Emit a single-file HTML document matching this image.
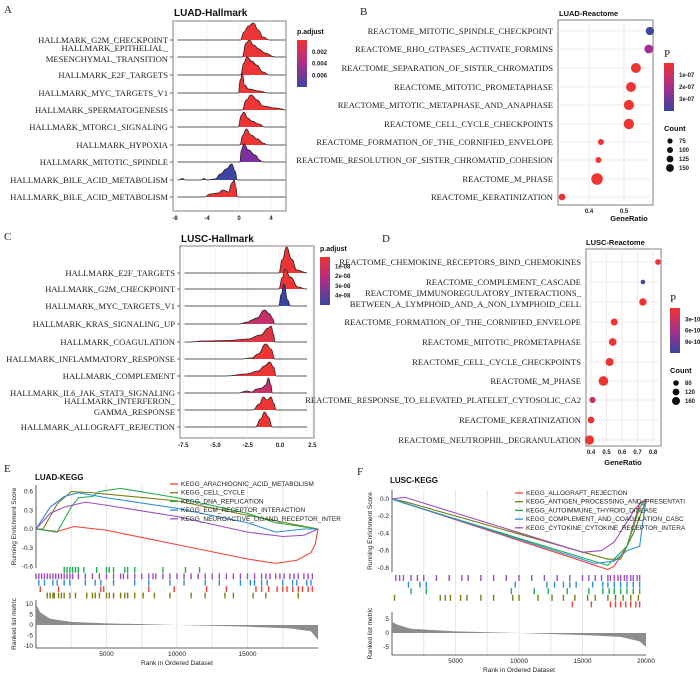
<!DOCTYPE html>
<html><head><meta charset="utf-8"><style>
body{margin:0;background:#fff}
svg{display:block}
.lab{font-family:"Liberation Serif",serif;font-size:8.6px;fill:#222}
.tt{font-family:"Liberation Sans",sans-serif;font-weight:bold;fill:#111}
.tk{font-family:"Liberation Sans",sans-serif;font-size:6px;font-weight:bold;fill:#222}
.sm{font-family:"Liberation Sans",sans-serif;font-size:6.5px;fill:#222}
.pl{font-family:"Liberation Serif",serif;font-size:11px;fill:#222}
</style></head><body>
<svg id="fig" width="700" height="678" viewBox="0 0 700 678" xmlns="http://www.w3.org/2000/svg">
<defs>
<linearGradient id="gA" x1="0" y1="0" x2="0" y2="1"><stop offset="0" stop-color="#ee3333"/><stop offset="0.5" stop-color="#a82f8a"/><stop offset="1" stop-color="#3a45a0"/></linearGradient>
</defs>
<text class="pl" x="4" y="13">A</text>
<text class="pl" x="360" y="15">B</text>
<text class="pl" x="4" y="240">C</text>
<text class="pl" x="382" y="242">D</text>
<text class="pl" x="4" y="472">E</text>
<text class="pl" x="357" y="475">F</text>
<text class="tt" x="174" y="16" font-size="10">LUAD-Hallmark</text>
<text class="tt" x="559" y="16" font-size="7.5">LUAD-Reactome</text>
<text class="tt" x="181" y="242" font-size="10">LUSC-Hallmark</text>
<text class="tt" x="586" y="245" font-size="7.5">LUSC-Reactome</text>
<text class="tt" x="35" y="480" font-size="8">LUAD-KEGG</text>
<text class="tt" x="390" y="483" font-size="8">LUSC-KEGG</text>
<g id="root"></g>
</svg>
<script>
// ---------- Panel A data ----------
const aLabels=["HALLMARK_G2M_CHECKPOINT",["HALLMARK_EPITHELIAL_","MESENCHYMAL_TRANSITION"],"HALLMARK_E2F_TARGETS","HALLMARK_MYC_TARGETS_V1","HALLMARK_SPERMATOGENESIS","HALLMARK_MTORC1_SIGNALING","HALLMARK_HYPOXIA","HALLMARK_MITOTIC_SPINDLE","HALLMARK_BILE_ACID_METABOLISM","HALLMARK_BILE_ACID_METABOLISM"];
const aColors=["#ee3434","#ee3434","#ee3434","#ee3434","#ee3434","#ee3434","#ee3434","#7b2fa0","#3b45a3","#ee3434"];
const aDens=[
[[0.2,0],[0.6,8],[1.2,14],[1.8,17],[2.4,10],[3,3],[3.8,0]],
[[0.4,0],[0.9,14],[1.3,17],[1.8,12],[2.5,8],[3.2,4],[4.5,0]],
[[0.2,0],[0.6,12],[1.0,18],[1.6,14],[2.2,10],[3,3],[3.8,0]],
[[-0.1,0],[0.2,14],[0.4,20],[0.7,8],[1.2,4],[2.5,2],[3.6,0]],
[[0.4,0],[0.9,10],[1.5,15],[2.3,10],[3,4],[4.5,2],[5.4,1],[5.7,0]],
[[-0.1,0],[0.3,12],[0.6,15],[1.1,9],[1.6,6],[2.5,3],[3.2,0]],
[[0.1,0],[0.5,10],[0.9,16],[1.5,10],[2.3,6],[3,2],[3.6,0]],
[[0.1,0],[0.3,12],[0.6,18],[1.2,12],[2,7],[2.6,2],[2.9,0]],
[[-7.5,0],[-7.1,1.5],[-6.7,0],[-4.7,0],[-4.4,1.5],[-4,0],[-3,1],[-2.3,6],[-1.6,11],[-0.9,16],[-0.5,9],[-0.2,0]],
[[-4.3,0],[-3.6,3],[-2.6,4],[-2,7],[-1.3,5],[-0.9,14],[-0.6,17],[-0.4,10],[-0.2,0]]];
const aTicks=[-8,-4,0,4];
const aLeg=["0.002","0.004","0.006"];
// ---------- Panel B data ----------
const bLabels=["REACTOME_MITOTIC_SPINDLE_CHECKPOINT","REACTOME_RHO_GTPASES_ACTIVATE_FORMINS","REACTOME_SEPARATION_OF_SISTER_CHROMATIDS","REACTOME_MITOTIC_PROMETAPHASE","REACTOME_MITOTIC_METAPHASE_AND_ANAPHASE","REACTOME_CELL_CYCLE_CHECKPOINTS","REACTOME_FORMATION_OF_THE_CORNIFIED_ENVELOPE","REACTOME_RESOLUTION_OF_SISTER_CHROMATID_COHESION","REACTOME_M_PHASE","REACTOME_KERATINIZATION"];
const bRatio=[0.574,0.571,0.534,0.52,0.514,0.514,0.434,0.427,0.423,0.323];
const bCount=[95,105,125,125,130,135,60,58,160,70];
const bColor=["#3d48a0","#a52f9a","#ee3434","#ee3434","#ee3434","#ee3434","#ee3434","#ee3434","#ee3434","#ee3434"];
const bTicks=[0.4,0.5];
// ---------- Panel C data ----------
const cLabels=["HALLMARK_E2F_TARGETS","HALLMARK_G2M_CHECKPOINT","HALLMARK_MYC_TARGETS_V1","HALLMARK_KRAS_SIGNALING_UP","HALLMARK_COAGULATION","HALLMARK_INFLAMMATORY_RESPONSE","HALLMARK_COMPLEMENT","HALLMARK_IL6_JAK_STAT3_SIGNALING",["HALLMARK_INTERFERON_","GAMMA_RESPONSE"],"HALLMARK_ALLOGRAFT_REJECTION"];
const cColors=["#ee3434","#ee3434","#3b45a3","#c5306a","#e23345","#ee3434","#ee3434","#c5306a","#ee3434","#ee3434"];
const cDens=[
[[-0.1,0],[0.2,14],[0.5,26],[0.9,14],[1.3,3],[2.1,0]],
[[-0.1,0],[0.2,12],[0.4,20],[0.8,12],[1.4,2],[2,0]],
[[-0.1,0],[0.1,12],[0.3,22],[0.6,6],[0.8,0]],
[[-3.2,0],[-2.5,2],[-2.2,4],[-1.8,6],[-1.2,14],[-0.8,10],[-0.6,6],[-0.4,0]],
[[-7,0],[-6,1],[-4,1.5],[-2.5,3],[-1.5,7],[-0.9,14],[-0.7,16],[-0.5,8],[-0.4,0]],
[[-3,0],[-2.2,1],[-1.7,5],[-1.1,15],[-0.7,10],[-0.4,0]],
[[-4.2,0],[-2.6,2],[-1.7,5],[-1.2,10],[-0.8,14],[-0.5,9],[-0.3,0]],
[[-3.2,0],[-2.6,2],[-2.2,1],[-1.8,4],[-1.4,5],[-1.1,8],[-0.9,15],[-0.7,8],[-0.6,0]],
[[-2.1,0],[-1.6,6],[-1.3,13],[-1.0,10],[-0.7,13],[-0.5,7],[-0.3,0]],
[[-1.9,0],[-1.5,8],[-1.2,15],[-0.9,10],[-0.6,0]]];
const cTicks=[-7.5,-5,-2.5,0,2.5];
const cTickLabels=["-7.5","-5.0","-2.5","0.0","2.5"];
const cLeg=["1e-08","2e-08","3e-08","4e-08"];
// ---------- Panel D data ----------
const dLabels=["REACTOME_CHEMOKINE_RECEPTORS_BIND_CHEMOKINES","REACTOME_COMPLEMENT_CASCADE",["REACTOME_IMMUNOREGULATORY_INTERACTIONS_","BETWEEN_A_LYMPHOID_AND_A_NON_LYMPHOID_CELL"],"REACTOME_FORMATION_OF_THE_CORNIFIED_ENVELOPE","REACTOME_MITOTIC_PROMETAPHASE","REACTOME_CELL_CYCLE_CHECKPOINTS","REACTOME_M_PHASE","REACTOME_RESPONSE_TO_ELEVATED_PLATELET_CYTOSOLIC_CA2","REACTOME_KERATINIZATION","REACTOME_NEUTROPHIL_DEGRANULATION"];
const dRatio=[0.832,0.735,0.735,0.55,0.54,0.52,0.48,0.41,0.4,0.39];
const dCount=[70,50,105,95,110,120,160,80,90,150];
const dColor=["#ee3434","#3d48a0","#ee3434","#ee3434","#ee3434","#ee3434","#ee3434","#c5306a","#ee3434","#ee3434"];
const dTicks=[0.4,0.5,0.6,0.7,0.8];
// ---------- Panel E data (rank in thousands, ES) ----------
const eNames=["KEGG_ARACHIDONIC_ACID_METABOLISM","KEGG_CELL_CYCLE","KEGG_DNA_REPLICATION","KEGG_ECM_RECEPTOR_INTERACTION","KEGG_NEUROACTIVE_LIGAND_RECEPTOR_INTER"];
const eCols=["#f0413b","#7d7d12","#1aae50","#2b8fd6","#9b4ec0"];
const eRank=[[0,1.5,2.7,5,10,15,17,18.5,19.5,19.8,20],[0,0.5,1.5,2.5,4,10,15,20],[0,1.5,2.5,3,4,4.5,6,10,15,17,20],[0,1,2,3,5,10,15,17,19,20],[0,1,2,3.5,5,10,15,17.5,19,20]];
const eES=[[0,-0.04,0.04,-0.02,-0.25,-0.48,-0.55,-0.5,-0.38,-0.25,0],[0,0,0.4,0.6,0.58,0.45,0.22,0],[0,-0.05,0.35,0.5,0.52,0.6,0.65,0.5,0.25,0.1,0],[0,0.35,0.52,0.58,0.5,0.33,0.1,-0.05,0,0],[0,0.25,0.35,0.43,0.38,0.2,-0.05,-0.12,-0.1,0]];
const eHits=[[2,2.2,2.4,2.6,2.8,3,3.4,4.3,5,5.2,5.5,6.3,6.5,7,9,10.6,11.6],
[0,0.2,0.4,0.6,0.8,1,1.2,1.4,1.6,1.8,2,2.2,2.4,2.6,3,3.5,4,4.5,5,5.5,6,6.2,6.5,7,7.5,8,8.3,8.5,9,9.5,10,10.5,11,11.5,12,12.5,13,13.5,14,14.5,15,15.5,16,16.3,16.6,17,17.3,17.6,18,18.3,18.6,19,19.3,19.6],
[0.2,0.6,1.2,1.5,2,2.4,3.5,4.2,4.6,5.5,7,8,9.5,10.5,12,13,14.5,15.2,15.5,16,16.4,17.5,18.2,18.5,19.2,19.5],
[0.3,1.6,4.6,4.8,8,9.8,12.1,13.5,15.6,16,16.5,17.1,17.5,17.8,18.2,18.6,18.9,19.3,19.6],
[0.8,1,1.2,1.3,1.6,1.8,2,2.4,2.8,3.6,4,4.2,4.5,5,5.2,5.5,6,6.3,6.5,7,7.6,8.4,9.5,11,12,13.4,14,15.4,16.3,18.6]];
const eHitCol=["#1aae50","#9b4ec0","#2b8fd6","#f0413b","#7d7d12"];
const eMetric=[[0,10],[0.3,6],[1,3],[2.5,1.5],[5,0.8],[10,0],[15,-0.8],[18,-1.6],[19.5,-3],[20,-7]];
// ---------- Panel F data ----------
const fNames=["KEGG_ALLOGRAFT_REJECTION","KEGG_ANTIGEN_PROCESSING_AND_PRESENTATI","KEGG_AUTOIMMUNE_THYROID_DISEASE","KEGG_COMPLEMENT_AND_COAGULATION_CASC","KEGG_CYTOKINE_CYTOKINE_RECEPTOR_INTERA"];
const fCols=["#f0413b","#7d7d12","#1aae50","#2b8fd6","#9b4ec0"];
const fRank=[[0,17,17.5,18.5,19.5,20],[0,1,17,18,19,19.8,20],[0,1,16.5,17,18.5,19.5,20],[0,16,17.5,18.5,19.5,20],[0,1,15,16.5,17.5,19.2,20]];
const fES=[[0,-0.82,-0.78,-0.55,-0.05,0],[0,-0.03,-0.7,-0.7,-0.4,-0.1,0],[0,-0.05,-0.75,-0.77,-0.55,-0.1,0],[0,-0.75,-0.72,-0.6,-0.55,0],[0,0.02,-0.62,-0.6,-0.5,-0.1,0]];
const fHits=[[0.3,0.6,0.9,1.5,2,2.5,3.5,4.5,5.5,6,7,8,9,10,11,12,13,14,15,15.5,16,16.5,17,17.2,17.5,17.8,18,18.3,18.5,18.8,19,19.3,19.5],[1.3,2.2,2.7,9.7,12.2,12.8,13.5,14,14.5,15.8,16.6,17,17.5,18,18.5,19,19.5],[1.5,2.7,9.4,11.2,12.3,13.8,15.5,16.6,17.1,17.5,18,18.5,19,19.5],[0.2,3.8,4.2,4.6,5.4,5.9,7,8,9.5,10,11.5,12.6,13.5,14.4,15.4,16,17,17.6,18.2,18.8,19.4],[14.2,15.7,17.2,17.6,18,18.4,18.8,19.2,19.5]];
const fHitCol=["#9b4ec0","#2b8fd6","#1aae50","#7d7d12","#f0413b"];
const fMetric=[[0,4],[0.4,3],[1.5,1.5],[5,0.6],[10,0],[15,-0.7],[18,-1.4],[19.5,-3],[20,-5]];

const NS="http://www.w3.org/2000/svg";
const root=document.getElementById('root');
function mk(tag,attrs,parent){const e=document.createElementNS(NS,tag);for(const k in attrs)e.setAttribute(k,attrs[k]);(parent||root).appendChild(e);return e;}
function txt(s,attrs,cls){const e=mk('text',attrs);e.setAttribute('class',cls);e.textContent=s;return e;}
function label(lbl,x,y,cls){
  if(Array.isArray(lbl)){const e=txt(lbl[0],{x:x,y:y-6,'text-anchor':'end'},cls);const e2=txt(lbl[1],{x:x,y:y+5,'text-anchor':'end'},cls);return e;}
  return txt(lbl,{x:x,y:y+3,'text-anchor':'end'},cls);
}

function ridge(box,xs,x0,x1,rowY,labels,dens,cols,ticks,tickLabels,prefix){
  const fr=mk('rect',{x:box[0],y:box[1],width:box[2]-box[0],height:box[3]-box[1],fill:'#fff',stroke:'#8a7c74','stroke-width':1});
  
  ticks.forEach((t,i)=>{
    const g=mk('line',{x1:xs(t),x2:xs(t),y1:box[1],y2:box[3],stroke:'#eee','stroke-width':0.8});
    
    const tl=txt(tickLabels[i],{x:xs(t),y:box[3]+9,'text-anchor':'middle'},'tk');
    
  });
  rowY.forEach((y,i)=>{
    const l=label(labels[i],box[0]-5,y,'lab');
    
    const tk=mk('line',{x1:box[0]-3,x2:box[0],y1:y,y2:y,stroke:'#333','stroke-width':0.7});
    
  });
  rowY.forEach((y,i)=>{
    const pts=dens[i];
    let d='M'+xs(x0)+','+y+' L'+xs(pts[0][0])+','+y;
    for(let j=1;j<pts.length;j++){
      const p0=pts[j-1],p1=pts[j];
      const mx=(xs(p0[0])+xs(p1[0]))/2;
      d+=' C'+mx+','+(y-p0[1])+' '+mx+','+(y-p1[1])+' '+xs(p1[0])+','+(y-p1[1]);
    }
    d+=' L'+xs(x1)+','+y;
    const p=mk('path',{d:d,fill:cols[i],stroke:'#222','stroke-width':0.8});
    
  });
}
function colorbar(x,y,h,title,labs,prefix,titleCls){
  const t=txt(title,{x:x,y:y-6},titleCls||'tt');
  if(!titleCls)t.setAttribute('font-size','7');
  
  const r=mk('rect',{x:x,y:y,width:10,height:h,fill:'url(#gA)'});
  
  labs.forEach((s,i)=>{const yy=y+h*(i+1)/(labs.length+1);
    const l=txt(s,{x:x+15,y:yy+2},'tk');l.setAttribute('font-size','5');
    });
}
const xA=v=>239+8*v;
ridge([173,21,286,211],xA,-7.7,5.8,[40,57,75,93,110,127,145,162,180,197],aLabels,aDens,aColors,aTicks,aTicks.map(String),'a');
colorbar(297,40,47,'p.adjust',aLeg,'a');
const xC=v=>280+12.9*v;
ridge([180,246,314,438],xC,-7.4,2.1,[273,289,306,324,342,359,376,393,410,427],cLabels,cDens,cColors,cTicks,cTickLabels,'c');
colorbar(320,257,48,'p.adjust',cLeg,'c');

function dots(box,xs,rowY,labels,ratio,count,col,ticks,prefix,rmin,rscale){
  const fr=mk('rect',{x:box[0],y:box[1],width:box[2]-box[0],height:box[3]-box[1],fill:'#fff',stroke:'#8a7c74','stroke-width':1});
  
  ticks.forEach(t=>{
    const g=mk('line',{x1:xs(t),x2:xs(t),y1:box[1],y2:box[3],stroke:'#f0e4e4','stroke-width':0.8});
    
    const tl=txt(String(t),{x:xs(t),y:box[3]+8,'text-anchor':'middle'},'tk');tl.setAttribute('font-size','5.5');
    
  });
  rowY.forEach((y,i)=>{
    const g=mk('line',{x1:box[0],x2:box[2],y1:y,y2:y,stroke:'#f0e4e4','stroke-width':0.8});
    
    const l=label(labels[i],box[0]-5,y,'lab');l.setAttribute('font-size','8');
    
    const c=mk('circle',{cx:xs(ratio[i]),cy:y,r:rmin+rscale*Math.sqrt(count[i]),fill:col[i]});
    
  });
}
const xB=v=>589+350*(v-0.4);
dots([558,20,653,205],xB,[31,49,68,87,105,124,142,160,179,197],bLabels,bRatio,bCount,bColor,bTicks,'b',-1.2,0.55);
const xD=v=>591+155*(v-0.4);
dots([586,249,661,446],xD,[262,282,302,322,342,362,381,400,420,440],dLabels,dRatio,dCount,dColor,dTicks,'d',-1.0,0.46);
[["GeneRatio",629,221,'b'],["GeneRatio",623,465,'d']].forEach(a=>{const t=txt(a[0],{x:a[1],y:a[2],'text-anchor':'middle'},'tt');t.setAttribute('font-size','7.5');});
colorbar(664,63,48,'P',["1e-07","2e-07","3e-07"],'b','pl');
colorbar(670,308,45,'P',["3e-10","6e-10","9e-10"],'d','pl');
function countLeg(x,y,vals,sizes,prefix){
  const t=txt('Count',{x:x-6,y:y},'tt');t.setAttribute('font-size','7.5');
  
  vals.forEach((v,i)=>{const yy=y+10+i*9;
    const c=mk('circle',{cx:x,cy:yy,r:sizes[i],fill:'#111'});
    const l=txt(String(v),{x:x+9,y:yy+2},'tk');l.setAttribute('font-size','5');});
}
countLeg(670,131,[75,100,125,150],[2.6,3,3.4,3.9],'b');
countLeg(676,373,[80,120,160],[2.8,3.4,4],'d');

function gsea(o){
  const xs=v=>o.x0+o.pk*v;
  const f=mk('rect',{x:o.x0,y:o.top[0],width:xs(20)-o.x0,height:o.top[1]-o.top[0],fill:'#fff'});
  
  [2.5,5,7.5,10,12.5,15,17.5].forEach(v=>{
    const g=mk('line',{x1:xs(v),x2:xs(v),y1:o.top[0],y2:o.bot[1],stroke:'#e6e6e6','stroke-width':1});
    
  });
  const ax=mk('line',{x1:o.x0,x2:o.x0,y1:o.top[0],y2:o.top[1],stroke:'#333','stroke-width':0.8});
  
  o.esTicks.forEach((t,i)=>{const y=o.ys(t);
    const l=txt(o.esTickLab[i],{x:o.x0-3,y:y+2,'text-anchor':'end'},'sm');l.setAttribute('font-size','5.5');
    });
  o.rank.forEach((r,i)=>{
    const d=r.map((v,j)=>(j?'L':'M')+xs(v)+','+o.ys(o.es[i][j])).join(' ');
    const p=mk('path',{d:d,fill:'none',stroke:o.cols[i],'stroke-width':1.1});
    
  });
  o.names.forEach((n,i)=>{const y=o.leg[1]+i*8.7;
    const l=mk('line',{x1:o.leg[0],x2:o.leg[0]+8,y1:y,y2:y,stroke:o.cols[i],'stroke-width':1.3});
    
    const t=txt(n,{x:o.leg[0]+11,y:y+2},'sm');t.setAttribute('font-size','5.3');
    });
  o.hits.forEach((h,i)=>{const y=o.stripe0+i*o.sh;
    h.forEach(v=>{const r=mk('rect',{x:xs(v)-0.7,y:y,width:1.4,height:o.sh-0.6,fill:o.hcol[i]});
      });
  });
  const ax2=mk('line',{x1:o.x0,x2:o.x0,y1:o.bot[0],y2:o.bot[1],stroke:'#333','stroke-width':0.8});
  
  let d='M'+xs(0)+','+o.ms(0);
  o.metric.forEach(p=>{d+=' L'+xs(p[0])+','+o.ms(p[1]);});
  d+=' L'+xs(20)+','+o.ms(0)+'Z';
  const mp=mk('path',{d:d,fill:'#8c8c8c'});
  o.mTicks.forEach(t=>{const l=txt(String(t),{x:o.x0-3,y:o.ms(t)+2,'text-anchor':'end'},'sm');l.setAttribute('font-size','5.5');
    });
  const xa=mk('line',{x1:o.x0,x2:xs(20),y1:o.bot[1],y2:o.bot[1],stroke:'#333','stroke-width':0.8});
  
  o.xTicks.forEach(t=>{const l=txt(String(t*1000),{x:xs(t),y:o.bot[1]+8,'text-anchor':'middle'},'sm');l.setAttribute('font-size','6');
    });
  const xt=txt('Rank in Ordered Dataset',{x:(o.x0+xs(20))/2,y:o.bot[1]+17,'text-anchor':'middle'},'sm');xt.setAttribute('font-size','7.5');
  
  const y1=txt('Running Enrichment Score',{x:0,y:0,'text-anchor':'middle',transform:'translate('+(o.x0-20)+','+((o.top[0]+o.top[1])/2)+') rotate(-90)'},'sm');y1.setAttribute('font-size','6.5');
  
  const y2=txt('Ranked list metric',{x:0,y:0,'text-anchor':'middle',transform:'translate('+(o.x0-20)+','+((o.bot[0]+o.bot[1])/2)+') rotate(-90)'},'sm');y2.setAttribute('font-size','6.5');
  
}
gsea({p:'e',x0:36,pk:14.1,top:[485,568],bot:[600,648],ys:v=>529-62.5*v,esTicks:[0.6,0.3,0,-0.3,-0.6],esTickLab:["0.6","0.3","0.0","-0.3","-0.6"],
  rank:eRank,es:eES,cols:eCols,names:eNames,leg:[170,484],hits:eHits,hcol:eHitCol,stripe0:567,sh:6.4,
  metric:eMetric,ms:v=>625-2.1*v,mTicks:[10,5,0,-5,-10],xTicks:[5,10,15]});
gsea({p:'f',x0:392,pk:12.7,top:[490,572],bot:[612,655],ys:v=>499-86*v,esTicks:[0,-0.2,-0.4,-0.6,-0.8],esTickLab:["0.0","-0.2","-0.4","-0.6","-0.8"],
  rank:fRank,es:fES,cols:fCols,names:fNames,leg:[515,493],hits:fHits,hcol:fHitCol,stripe0:575,sh:6.6,
  metric:fMetric,ms:v=>633-2.8*v,mTicks:[5,0,-5],xTicks:[5,10,15,20]});
</script>
</body></html>
